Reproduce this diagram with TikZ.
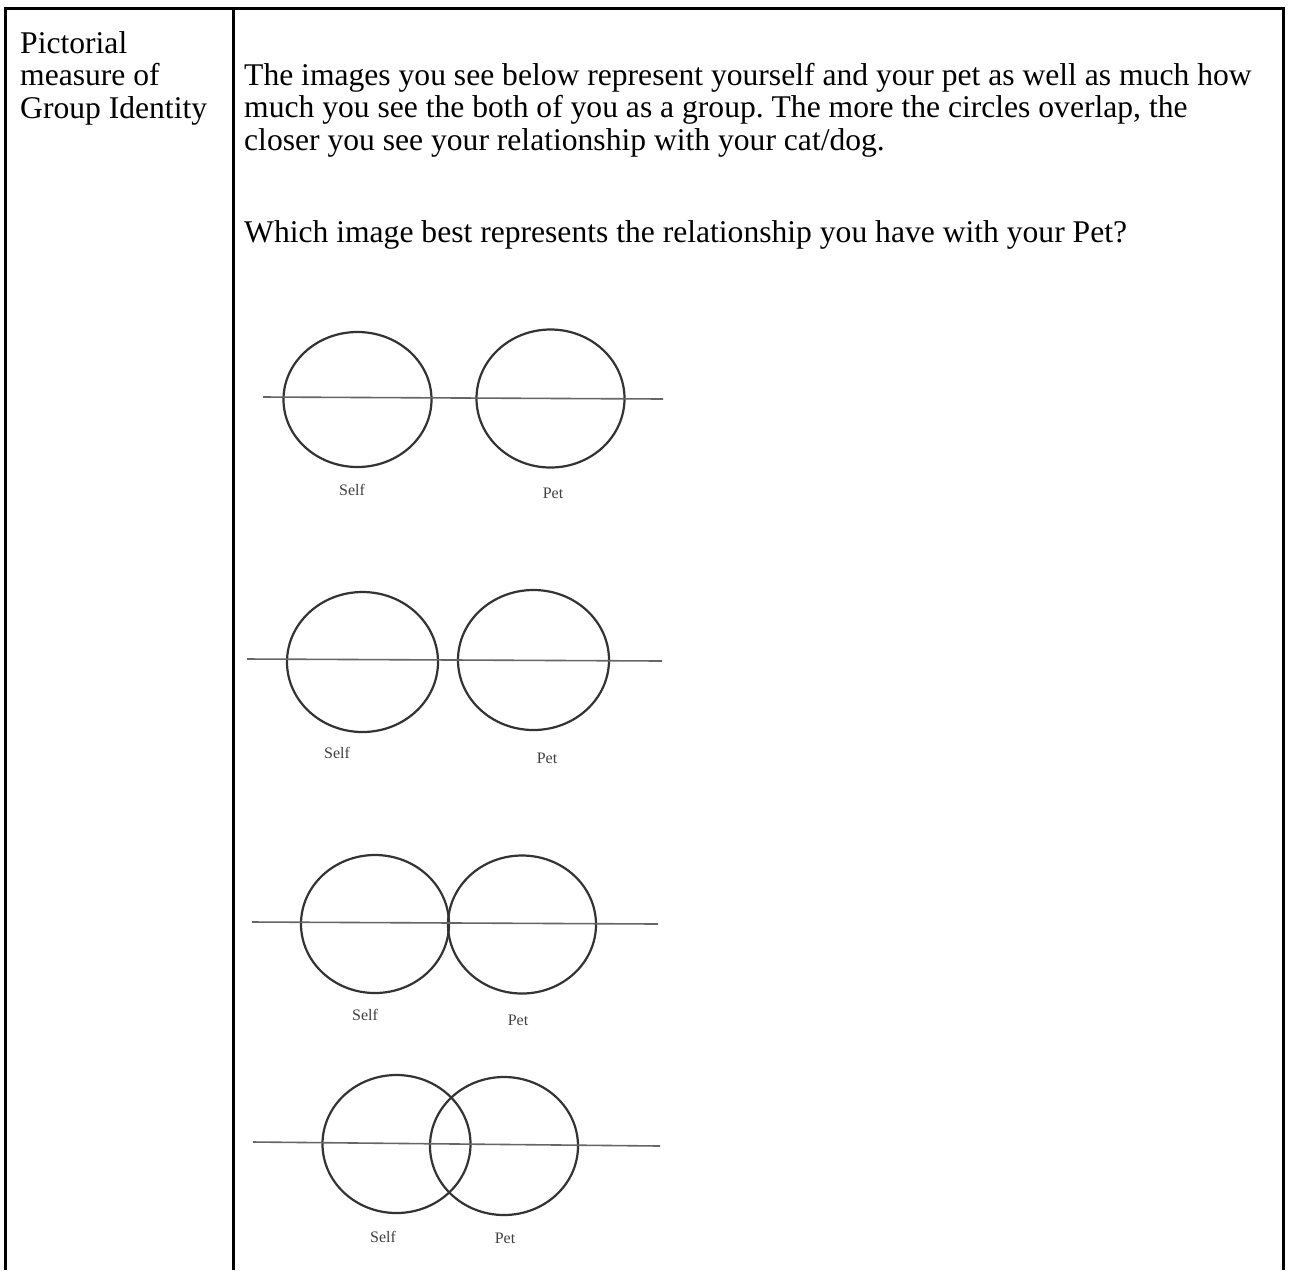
\documentclass[tikz,border=0pt]{standalone}
\usepackage{fontspec}
\setmainfont{Liberation Serif}
\usetikzlibrary{shapes.geometric}
\frenchspacing

\begin{document}
\begin{tikzpicture}[
            x=1pt, y=-1pt,
            rule/.style={draw=black, line width=3pt},
            cell/.style={anchor=north west, inner sep=0pt, align=left, font=\fontsize{31.6}{32.5}\selectfont},
            ring/.style={ellipse, draw=black!80, line width=2.2pt, inner sep=0pt, minimum width=148pt, minimum height=138pt},
            axis/.style={draw=black!60, line width=1.6pt},
            tag/.style={inner sep=0pt, text=black!75, font=\fontsize{16}{16}\selectfont}
        ]
            \useasboundingbox (0,0) rectangle (1290,1270);
            % table frame
            \draw[rule] (5,1270) -- (5,8) -- (1283,8) -- (1283,1270);
            \draw[rule] (233,8) -- (233,1270);
            % texts
            \node[cell] (item) at (20,31) {Pictorial\\measure of\\Group Identity};
            \node[cell] (intro) at (244,63) {The images you see below represent yourself and your pet as well as much how\\much you see the both of you as a group. The more the circles overlap, the\\closer you see your relationship with your cat/dog.};
            \node[cell] (question) at (244,220) {Which image best represents the relationship you have with your Pet?};
            % option 1
            \node[ring, minimum height=135pt] (self1) at (357.5,399.5) {};
            \node[ring] (pet1) at (550.5,398.5) {};
            \coordinate (a1) at (263,397);
            \coordinate (b1) at (663,399);
            \draw[axis] (a1) -- (b1);
            \node[tag] (s1) at (352,490) {Self};
            \node[tag] (p1) at (553,493) {Pet};
            % option 2
            \node[ring, minimum width=151pt, minimum height=140pt] (self2) at (362.5,662) {};
            \node[ring, minimum width=151pt, minimum height=140pt] (pet2) at (533.5,660) {};
            \coordinate (a2) at (247,659);
            \coordinate (b2) at (662,661);
            \draw[axis] (a2) -- (b2);
            \node[tag] (s2) at (337,753) {Self};
            \node[tag] (p2) at (547,758) {Pet};
            % option 3
            \node[ring] (self3) at (375,924) {};
            \node[ring] (pet3) at (522,924.5) {};
            \coordinate (a3) at (252,922);
            \coordinate (b3) at (658,924);
            \draw[axis] (a3) -- (b3);
            \node[tag] (s3) at (365,1015) {Self};
            \node[tag] (p3) at (518,1020) {Pet};
            % option 4
            \node[ring] (self4) at (396.5,1144) {};
            \node[ring] (pet4) at (504,1146) {};
            \coordinate (a4) at (253,1142);
            \coordinate (b4) at (660,1146);
            \draw[axis] (a4) -- (b4);
            \node[tag] (s4) at (383,1237) {Self};
            \node[tag] (p4) at (505,1238) {Pet};
        \end{tikzpicture}
\end{document}
